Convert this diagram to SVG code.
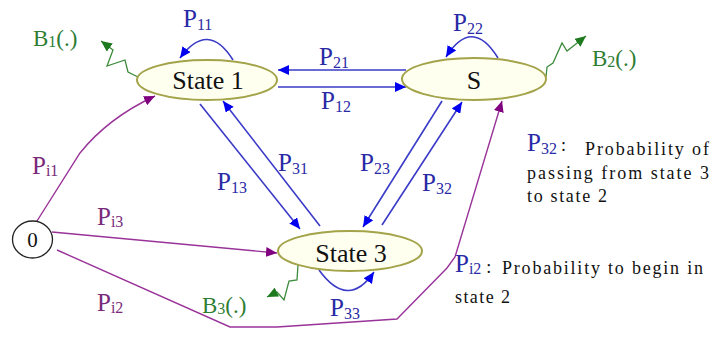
<svg xmlns="http://www.w3.org/2000/svg" width="711" height="339" viewBox="0 0 711 339">
<style>
text{font-family:"Liberation Serif","Times New Roman",serif}
.st{fill:#fffff0;stroke:#a3a34a;stroke-width:2}
.nt{font-size:26px;fill:#111;text-anchor:middle}
.bl{fill:none;stroke:#3a3ac8;stroke-width:1.6}
.pu{fill:none;stroke:#993399;stroke-width:1.4}
.gr{fill:none;stroke:#3c8a3c;stroke-width:1.3}
.pl{font-size:25px;fill:#2a2aa6}
.ppl{font-size:25px;fill:#7a2a7a}
.gl{font-size:23px;fill:#2e7d32}
.sub{font-size:16px}
.an{font-size:18px;fill:#111}
</style>
<defs>
<marker id="ab" markerUnits="userSpaceOnUse" markerWidth="12" markerHeight="10" refX="11" refY="5" orient="auto"><path d="M0,0 L11,5 L0,10 z" fill="#0000ee"/></marker>
<marker id="ap" markerUnits="userSpaceOnUse" markerWidth="12" markerHeight="10" refX="11" refY="5" orient="auto"><path d="M0,0 L11,5 L0,10 z" fill="#800080"/></marker>
<marker id="ag" markerUnits="userSpaceOnUse" markerWidth="12" markerHeight="10" refX="11" refY="5" orient="auto"><path d="M0,0 L11,5 L0,10 z" fill="#1e7a1e"/></marker>
</defs>
<g id="connectors">
<path class="bl" d="M406,70 L278,70" marker-end="url(#ab)"/>
<path class="bl" d="M278,87 L406,87" marker-end="url(#ab)"/>
<path class="bl" d="M233,60 Q208,20 180,58" marker-end="url(#ab)"/>
<path class="bl" d="M498,58 Q472,16 446,57" marker-end="url(#ab)"/>
<path class="bl" d="M319,270 Q348,310 374,272" marker-end="url(#ab)"/>
<path class="bl" d="M200,104 L300,229" marker-end="url(#ab)"/>
<path class="bl" d="M320,226 L223,101" marker-end="url(#ab)"/>
<path class="bl" d="M442,101 L363,227" marker-end="url(#ab)"/>
<path class="bl" d="M382,225 L462,102" marker-end="url(#ab)"/>
<path class="pu" d="M37,221 L80,153 Q108,118 155,96" marker-end="url(#ap)"/>
<path class="pu" d="M52,232 L277,253" marker-end="url(#ap)"/>
<path class="pu" d="M57,250 L230,327 L277,327 L397,319 L447,268 L455,257 L502,101" marker-end="url(#ap)"/>
<path class="gr" d="M138,77 L128,72 L125,60 L107,66 L113,50 L101,41" marker-end="url(#ag)"/>
<path class="gr" d="M546,77 L547,67 L553,63 L562,43 L567,51 L586,36" marker-end="url(#ag)"/>
<path class="gr" d="M298,265 L297,280 L289,281 L284,300 L277,292 L267,297" marker-end="url(#ag)"/>
</g>
<g id="state1"><ellipse class="st" cx="207" cy="80" rx="70" ry="20"/><text class="nt" x="208" y="89">State 1</text></g>
<g id="state2"><ellipse class="st" cx="474" cy="79" rx="72" ry="21"/><text class="nt" x="474" y="89">S</text></g>
<g id="state3"><ellipse class="st" cx="350" cy="251" rx="72" ry="20"/><text class="nt" x="351" y="262">State 3</text></g>
<g id="start"><ellipse cx="32.5" cy="239.5" rx="20" ry="18.5" fill="#fff" stroke="#222" stroke-width="1.3"/><text x="32.5" y="247" font-size="21" fill="#111" text-anchor="middle">0</text></g>
<g id="labels">
<text class="pl" x="183" y="27">P<tspan class="sub" dy="3">11</tspan></text>
<text class="pl" x="453" y="31">P<tspan class="sub" dy="3">22</tspan></text>
<text class="pl" x="319" y="65">P<tspan class="sub" dy="3">21</tspan></text>
<text class="pl" x="321" y="109">P<tspan class="sub" dy="3">12</tspan></text>
<text class="pl" x="217" y="190">P<tspan class="sub" dy="3">13</tspan></text>
<text class="pl" x="278" y="171">P<tspan class="sub" dy="3">31</tspan></text>
<text class="pl" x="360" y="171">P<tspan class="sub" dy="3">23</tspan></text>
<text class="pl" x="422" y="191">P<tspan class="sub" dy="3">32</tspan></text>
<text class="pl" x="330" y="316">P<tspan class="sub" dy="3">33</tspan></text>
<text class="ppl" x="32" y="174">P<tspan class="sub" dy="2">i1</tspan></text>
<text class="ppl" x="97" y="225">P<tspan class="sub" dy="2">i3</tspan></text>
<text class="ppl" x="97" y="311">P<tspan class="sub" dy="2">i2</tspan></text>
<text class="gl" x="33" y="46">B<tspan class="sub" dy="1">1</tspan><tspan dy="-1">(.)</tspan></text>
<text class="gl" x="592" y="66">B<tspan class="sub" dy="1">2</tspan><tspan dy="-1">(.)</tspan></text>
<text class="gl" x="202" y="313">B<tspan class="sub" dy="1">3</tspan><tspan dy="-1">(.)</tspan></text>
</g>
<g id="note1">
<text class="pl" x="527" y="151">P<tspan class="sub" dy="3">32</tspan><tspan class="an" fill="#111" dx="4" dy="-3">:</tspan></text>
<text class="an" x="585" y="155" textLength="124" lengthAdjust="spacing">Probability of</text>
<text class="an" x="527" y="179" textLength="182" lengthAdjust="spacing">passing from state 3</text>
<text class="an" x="527" y="202" textLength="80" lengthAdjust="spacing">to state 2</text>
</g>
<g id="note2">
<text class="pl" x="455" y="272">P<tspan class="sub" dy="2">i2</tspan><tspan class="an" fill="#111" dx="5" dy="-1">:</tspan></text>
<text class="an" x="502" y="274" textLength="201" lengthAdjust="spacing">Probability to begin in</text>
<text class="an" x="455" y="303" textLength="55" lengthAdjust="spacing">state 2</text>
</g>
</svg>
